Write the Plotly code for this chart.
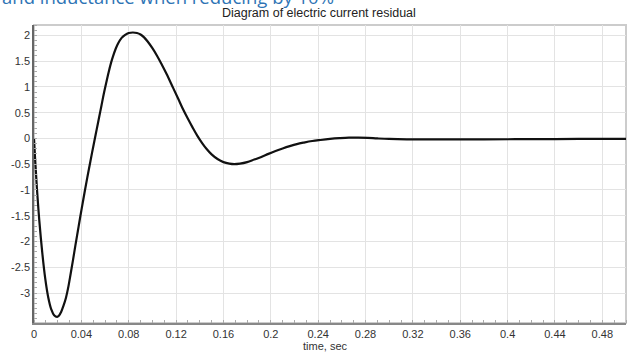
import plotly.graph_objects as go

# time (s) and current residual values
time_s = [0, 0.001, 0.0025, 0.0045, 0.007, 0.0095, 0.012, 0.0145, 0.017, 0.0195,
          0.021, 0.023, 0.025, 0.027, 0.029, 0.031, 0.033, 0.035, 0.037, 0.039,
          0.041, 0.043, 0.045, 0.047, 0.049, 0.051, 0.053, 0.055, 0.057, 0.059,
          0.061, 0.063, 0.065, 0.067, 0.069, 0.071, 0.074, 0.077, 0.080, 0.0835,
          0.087, 0.090, 0.093, 0.096, 0.100, 0.104, 0.108, 0.112, 0.1175, 0.122,
          0.126, 0.130, 0.134, 0.138, 0.142, 0.146, 0.150, 0.155, 0.160, 0.165,
          0.169, 0.174, 0.180, 0.186, 0.192, 0.198, 0.204, 0.210, 0.216, 0.222,
          0.228, 0.235, 0.242, 0.250, 0.258, 0.266, 0.274, 0.282, 0.290, 0.300,
          0.315, 0.330, 0.350, 0.380, 0.420, 0.460, 0.500]
residual = [0, -0.42, -0.98, -1.6, -2.22, -2.72, -3.08, -3.31, -3.43, -3.46,
            -3.44, -3.36, -3.24, -3.09, -2.88, -2.62, -2.35, -2.07, -1.80, -1.53,
            -1.27, -1.01, -0.76, -0.52, -0.28, -0.05, 0.18, 0.41, 0.64, 0.87,
            1.08, 1.28, 1.46, 1.61, 1.74, 1.84, 1.95, 2.01, 2.045, 2.055,
            2.045, 2.015, 1.96, 1.88, 1.75, 1.60, 1.43, 1.25, 0.98, 0.76,
            0.56, 0.38, 0.21, 0.05, -0.09, -0.21, -0.31, -0.40, -0.46, -0.49,
            -0.50, -0.49, -0.46, -0.41, -0.36, -0.30, -0.245, -0.195, -0.15, -0.11,
            -0.08, -0.05, -0.03, -0.01, 0.005, 0.015, 0.015, 0.01, 0.0, -0.01,
            -0.018, -0.02, -0.02, -0.018, -0.014, -0.01, -0.01]

x_ticks = [0, 0.04, 0.08, 0.12, 0.16, 0.2, 0.24, 0.28, 0.32, 0.36, 0.4, 0.44, 0.48]
x_tick_labels = ["0", "0.04", "0.08", "0.12", "0.16", "0.2", "0.24", "0.28",
                 "0.32", "0.36", "0.4", "0.44", "0.48"]
y_ticks = [2, 1.5, 1, 0.5, 0, -0.5, -1, -1.5, -2, -2.5, -3]
y_tick_labels = ["2", "1.5", "1", "0.5", "0", "-0.5", "-1", "-1.5", "-2", "-2.5", "-3"]

title_text = "Diagram of electric current residual"
x_title = "time, sec"
header_text = "and inductance when reducing by 10%"

FONT = "Liberation Sans, Arial, sans-serif"

fig = go.Figure()
fig.add_trace(go.Scatter(
    x=time_s, y=residual, mode="lines",
    line=dict(color="#111111", width=2.2, shape="spline", smoothing=1.0),
    hoverinfo="skip", showlegend=False,
))

fig.update_layout(
    width=627, height=354,
    margin=dict(l=34, r=1, t=25, b=31),
    paper_bgcolor="white", plot_bgcolor="white",
    font=dict(family=FONT, size=11, color="#333333"),
    showlegend=False,
    shapes=[dict(type="rect", xref="paper", yref="paper", x0=0, y0=0, x1=1, y1=1,
                 line=dict(color="#cccccc", width=2), layer="below")],
    annotations=[
        dict(text=title_text, xref="paper", yref="paper", x=0.481, y=1.0,
             xanchor="center", yanchor="bottom", yshift=3, showarrow=False,
             font=dict(family=FONT, size=12.5, color="#222222")),
        dict(text=x_title, xref="paper", yref="paper", x=0.493, y=0,
             xanchor="center", yanchor="top", yshift=-15, showarrow=False,
             font=dict(family=FONT, size=11, color="#333333")),
        dict(text=header_text, xref="paper", yref="paper", x=-0.057, y=1.0,
             xanchor="left", yanchor="bottom", yshift=14, showarrow=False,
             font=dict(family="Open Sans, sans-serif", size=18.5, color="#2E74B5")),
    ],
)

fig.update_xaxes(
    range=[0, 0.5], tickmode="array", tickvals=x_ticks, ticktext=x_tick_labels,
    showgrid=True, gridcolor="#e3e3e3", gridwidth=1, zeroline=False,
    showline=True, linecolor="#888888", linewidth=1.5,
    ticks="", tickfont=dict(size=11, color="#333333"),
    minor=dict(dtick=0.01, ticks="inside", ticklen=3, tickcolor="#aaaaaa", showgrid=False),
)
fig.update_yaxes(
    range=[-3.58, 2.2], tickmode="array", tickvals=y_ticks, ticktext=y_tick_labels,
    showgrid=True, gridcolor="#e3e3e3", gridwidth=1, zeroline=False,
    showline=True, linecolor="#666666", linewidth=1.5,
    ticks="", tickfont=dict(size=11, color="#333333"),
    minor=dict(dtick=0.1, ticks="inside", ticklen=3, tickcolor="#aaaaaa", showgrid=False),
)

fig.write_html("out.html")
